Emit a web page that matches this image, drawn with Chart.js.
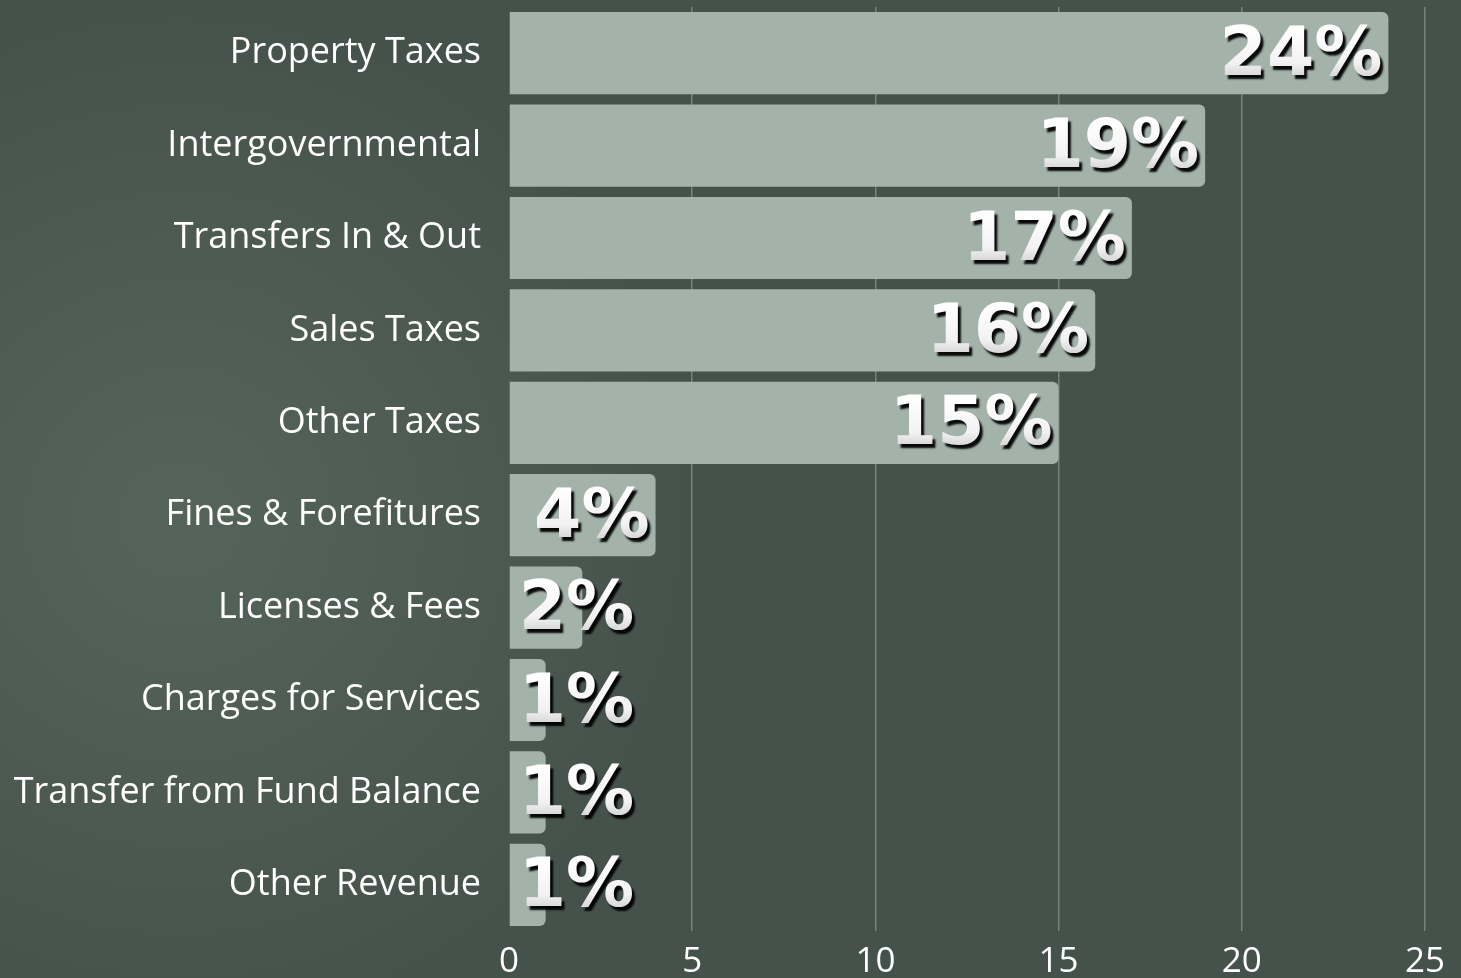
<!DOCTYPE html>
<html>
<head>
<meta charset="utf-8">
<script src="https://cdn.jsdelivr.net/npm/chart.js@4/dist/chart.umd.min.js"></script>
<style>
  html, body { margin: 0; padding: 0; background: #45524b; }
  #wrap { width: 1461px; height: 978px; }
</style>
</head>
<body>
<div id="wrap"><canvas id="c" width="1461" height="978"></canvas></div>
<script>
const categories = [
  'Property Taxes', 'Intergovernmental', 'Transfers In & Out', 'Sales Taxes',
  'Other Taxes', 'Fines & Forefitures', 'Licenses & Fees', 'Charges for Services',
  'Transfer from Fund Balance', 'Other Revenue'
];
const shares = [24, 19, 17, 16, 15, 4, 2, 1, 1, 1];
const xTicks = [0, 5, 10, 15, 20, 25];

const bg = {
  id: 'bg',
  beforeDraw(chart) {
    const { ctx, width, height } = chart;
    ctx.save();
    ctx.fillStyle = '#45524b';
    ctx.fillRect(0, 0, width, height);
    // faint lighter haze on the left, like the photo behind the original
    const r = ctx.createRadialGradient(180, 520, 20, 180, 520, 520);
    r.addColorStop(0, 'rgba(120,140,128,0.3)');
    r.addColorStop(1, 'rgba(120,140,128,0)');
    ctx.fillStyle = r;
    ctx.fillRect(0, 0, width, height);
    ctx.restore();
  }
};

const pctLabels = {
  id: 'pctLabels',
  afterDatasetsDraw(chart) {
    const { ctx } = chart;
    const meta = chart.getDatasetMeta(0);
    ctx.save();
    ctx.font = 'bold 68px "DejaVu Sans"';
    ctx.textBaseline = 'middle';
    ctx.textAlign = 'right';
    meta.data.forEach((bar, i) => {
      const txt = shares[i] + '%';
      const w = ctx.measureText(txt).width;
      const x = Math.max(bar.x - 6, bar.base + 9 + w);
      const y = bar.y + 4;
      ctx.shadowColor = 'rgba(0,0,0,0.95)';
      ctx.shadowOffsetX = 3;
      ctx.shadowOffsetY = 4;
      ctx.shadowBlur = 2;
      const g = ctx.createLinearGradient(0, y - 28, 0, y + 28);
      g.addColorStop(0, '#ffffff');
      g.addColorStop(0.6, '#f2f2f2');
      g.addColorStop(1, '#c4c4c4');
      ctx.fillStyle = g;
      ctx.fillText(txt, x, y);
    });
    ctx.restore();
  }
};

new Chart(document.getElementById('c'), {
  type: 'bar',
  data: {
    labels: categories,
    datasets: [{
      data: shares,
      backgroundColor: '#a3b3aa',
      borderRadius: { topLeft: 0, bottomLeft: 0, topRight: 6, bottomRight: 6 },
      borderSkipped: false,
      barPercentage: 0.89,
      categoryPercentage: 1
    }]
  },
  options: {
    indexAxis: 'y',
    responsive: false,
    animation: false,
    layout: { padding: { top: 7, right: 36, left: 0, bottom: 0 } },
    plugins: { legend: { display: false }, tooltip: { enabled: false } },
    scales: {
      x: {
        min: 0,
        max: 25,
        afterBuildTicks: s => { s.ticks = xTicks.map(v => ({ value: v })); },
        afterFit: s => { s.height = 47; s.paddingLeft = 0; s.paddingRight = 0; },
        grid: {
          color: c => (c.tick && c.tick.value === 0) ? 'rgba(0,0,0,0)' : 'rgba(255,255,255,0.28)',
          lineWidth: 1.5,
          drawTicks: false
        },
        border: { display: false },
        ticks: { color: '#ffffff', padding: 10, font: { family: 'Open Sans', size: 35 } }
      },
      y: {
        afterFit: s => { s.width = 509; s.paddingTop = 0; s.paddingBottom = 0; },
        grid: { display: false, drawTicks: false },
        border: { display: false },
        ticks: { color: '#ffffff', padding: 28, font: { family: 'Open Sans', size: 36 } }
      }
    }
  },
  plugins: [bg, pctLabels]
});
</script>
</body>
</html>
